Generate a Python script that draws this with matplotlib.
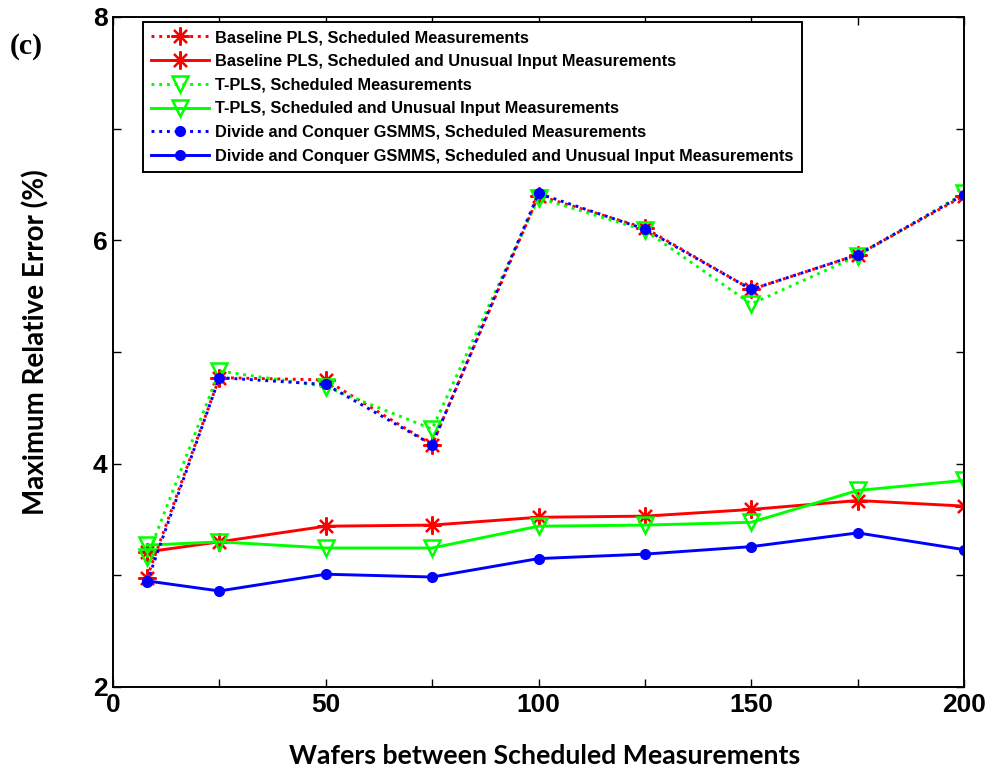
import matplotlib
matplotlib.use("Agg")
import matplotlib.pyplot as plt

x = [8, 25, 50, 75, 100, 125, 150, 175, 200]

pls_sched = [2.98, 4.77, 4.75, 4.17, 6.40, 6.11, 5.56, 5.87, 6.40]
pls_unusual = [3.21, 3.30, 3.44, 3.45, 3.52, 3.53, 3.59, 3.67, 3.62]
tpls_sched = [3.16, 4.83, 4.69, 4.31, 6.38, 6.09, 5.43, 5.86, 6.42]
tpls_unusual = [3.27, 3.30, 3.245, 3.245, 3.44, 3.45, 3.475, 3.76, 3.85]
dc_sched = [2.94, 4.77, 4.71, 4.17, 6.42, 6.10, 5.56, 5.87, 6.41]
dc_unusual = [2.95, 2.86, 3.01, 2.985, 3.15, 3.19, 3.257, 3.38, 3.23]

labels = [
    "Baseline PLS, Scheduled Measurements",
    "Baseline PLS, Scheduled and Unusual Input Measurements",
    "T-PLS, Scheduled Measurements",
    "T-PLS, Scheduled and Unusual Input Measurements",
    "Divide and Conquer GSMMS, Scheduled Measurements",
    "Divide and Conquer GSMMS, Scheduled and Unusual Input Measurements",
]
xticks = [0, 25, 50, 75, 100, 125, 150, 175, 200]
xticklabels = ["0", "", "50", "", "100", "", "150", "", "200"]
yticks = [2, 3, 4, 5, 6, 7, 8]
yticklabels = ["2", "", "4", "", "6", "", "8"]

fig = plt.figure(figsize=(9.9, 7.74), dpi=100)
ax = fig.add_axes([113/990, 1-687/774, (964-113)/990, (687-17)/774])

red, green, blue = (1, 0, 0), (0, 1, 0), (0, 0, 1)
star = (8, 2, 0)
lw = 2.1
ax.plot(x, pls_sched, linestyle=':', color=red, lw=lw, marker=star, ms=13, mew=1.6, label=labels[0])
ax.plot(x, pls_unusual, linestyle='-', color=red, lw=lw, marker=star, ms=13, mew=1.6, label=labels[1])
ax.plot(x, tpls_sched, linestyle=':', color=green, lw=lw, marker='v', ms=11, mew=1.8, mfc='none', label=labels[2])
ax.plot(x, tpls_unusual, linestyle='-', color=green, lw=lw, marker='v', ms=11, mew=1.8, mfc='none', label=labels[3])
ax.plot(x, dc_sched, linestyle=':', color=blue, lw=lw, marker='o', ms=7, label=labels[4])
ax.plot(x, dc_unusual, linestyle='-', color=blue, lw=lw, marker='o', ms=7, label=labels[5])

ax.set_xlim(0, 200)
ax.set_ylim(2, 8)
ax.set_xticks(xticks)
ax.set_xticklabels(xticklabels)
ax.set_yticks(yticks)
ax.set_yticklabels(yticklabels)
ax.tick_params(direction='in', top=True, right=True, length=6, width=1.0,
               labelsize=19, pad=4)
for lab in ax.get_xticklabels() + ax.get_yticklabels():
    lab.set_fontfamily("Liberation Sans")
    lab.set_fontweight("bold")
for sp in ax.spines.values():
    sp.set_linewidth(1.4)

ax.set_xlabel("Wafers between Scheduled Measurements", fontsize=19.2, fontweight='bold',
              family="Lato", labelpad=20)
ax.set_ylabel("Maximum Relative Error (%)", fontsize=20, fontweight='bold',
              family="Lato", labelpad=31)
ax.xaxis.label.set_x(0.5077)
ax.yaxis.label.set_y(0.515)

leg = ax.legend(loc='upper left', bbox_to_anchor=(143/990, 1-22/774),
                bbox_transform=fig.transFigure, borderaxespad=0,
                prop={'family': 'Liberation Sans', 'weight': 'bold', 'size': 11.8},
                handlelength=3.5, handletextpad=0.4, labelspacing=0.53,
                borderpad=0.5, fancybox=False, edgecolor='black', framealpha=1)
leg.get_frame().set_linewidth(1.4)

fig.text(10/990, 1-47/774, "(c)", fontsize=21.5, fontweight='bold',
         family="Liberation Serif", va='center', ha='left')

fig.savefig("out.png", dpi=100)
